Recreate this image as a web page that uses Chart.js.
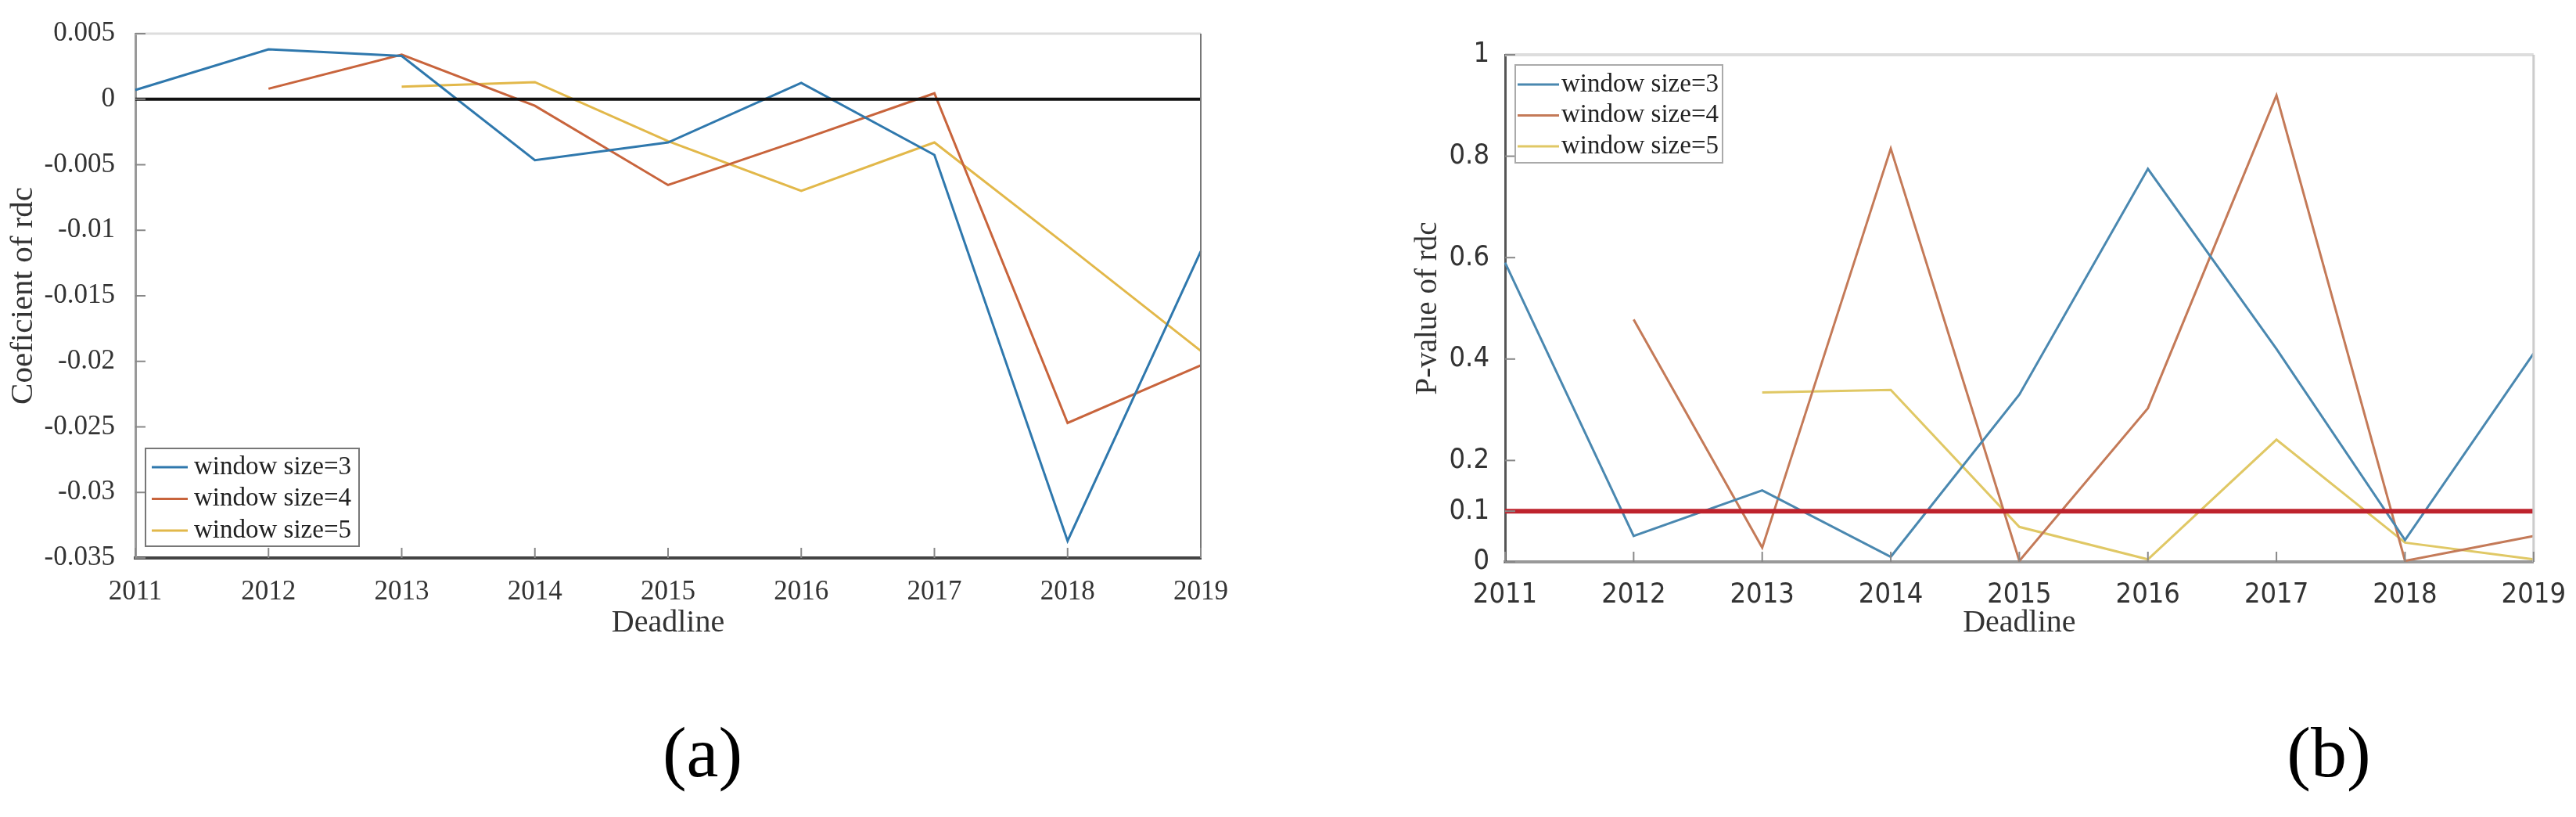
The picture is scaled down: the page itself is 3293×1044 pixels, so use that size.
<!DOCTYPE html>
<html>
<head>
<meta charset="utf-8">
<script src="https://cdn.jsdelivr.net/npm/chart.js@4"></script>
<style>
  body { margin: 0; background: #fff; width: 3293px; height: 1044px; position: relative; overflow: hidden; }
  canvas { position: absolute; top: 0; }
  #chartA { left: 0; }
  #chartB { left: 1700px; }
  .tag { position: absolute; top: 915px; font-family: 'Liberation Serif', 'Times New Roman', serif; font-size: 92px; line-height: 1; color: #000; transform: translateX(-50%); }
</style>
</head>
<body>
<canvas id="chartA" width="1600" height="850"></canvas>
<canvas id="chartB" width="1593" height="850"></canvas>
<div class="tag" style="left:898px">(a)</div>
<div class="tag" style="left:2977px">(b)</div>
<script>
// years on the x axis
const years = ['2011', '2012', '2013', '2014', '2015', '2016', '2017', '2018', '2019']
const seriesNames = ['window size=3', 'window size=4', 'window size=5']

// (a) coefficient of rdc
const coefW3 = [0.0007, 0.0038, 0.0033, -0.00465, -0.0033, 0.00125, -0.00425, -0.0337, -0.0116]
const coefW4 = [null, 0.0008, 0.0034, -0.0005, -0.00655, -0.0031, 0.00045, -0.0247, -0.0203]
const coefW5 = [null, null, 0.00095, 0.0013, -0.0032, -0.0070, -0.0033, -0.0112, -0.0192]
const zeroLine = [0, 0, 0, 0, 0, 0, 0, 0, 0]
const yTicksA = [-0.035, -0.03, -0.025, -0.02, -0.015, -0.01, -0.005, 0, 0.005]

// (b) p-value of rdc
const pW3 = [0.59, 0.051, 0.141, 0.01, 0.33, 0.775, 0.42, 0.043, 0.411]
const pW4 = [null, 0.478, 0.028, 0.815, 0.002, 0.303, 0.92, 0.002, 0.051]
const pW5 = [null, null, 0.334, 0.339, 0.069, 0.005, 0.241, 0.038, 0.005]
const threshold = [0.1, 0.1, 0.1, 0.1, 0.1, 0.1, 0.1, 0.1, 0.1]
const yTicksB = [0, 0.1, 0.2, 0.4, 0.6, 0.8, 1]

const serif = "'Liberation Serif', 'Times New Roman', serif"
const narrow = "'Liberation Sans Narrow', 'Arial Narrow', 'DejaVu Sans Condensed', sans-serif"

const colorsA = ['#2f78ad', '#c8643c', '#e2b84a']
const colorsB = ['#4a88b0', '#c47a58', '#e0c865']

// top/right box edges plus MATLAB style ticks that point inside the plot
function boxFrame(opts) {
  return {
    id: 'boxFrame',
    afterDatasetsDraw(chart) {
      const { ctx, chartArea: a, scales } = chart
      ctx.save()
      ctx.strokeStyle = opts.topColor
      ctx.lineWidth = opts.topWidth
      ctx.beginPath(); ctx.moveTo(a.left, a.top); ctx.lineTo(a.right, a.top); ctx.stroke()
      ctx.strokeStyle = opts.rightColor
      ctx.lineWidth = opts.rightWidth
      ctx.beginPath(); ctx.moveTo(a.right, a.top); ctx.lineTo(a.right, a.bottom); ctx.stroke()

      ctx.strokeStyle = opts.tickColor
      ctx.lineWidth = 2
      scales.x.ticks.forEach((t, i) => {
        const x = scales.x.getPixelForTick(i)
        ctx.beginPath(); ctx.moveTo(x, a.bottom); ctx.lineTo(x, a.bottom - opts.tickLen); ctx.stroke()
      })
      scales.y.ticks.forEach((t, i) => {
        const y = scales.y.getPixelForTick(i)
        ctx.beginPath(); ctx.moveTo(a.left, y); ctx.lineTo(a.left + opts.tickLen, y); ctx.stroke()
      })
      ctx.restore()
    }
  }
}

// boxed legend drawn inside the plot area
function boxLegend(opts) {
  return {
    id: 'boxLegend',
    afterDraw(chart) {
      const { ctx, chartArea: a } = chart
      const items = chart.data.datasets.filter(d => d.inLegend)
      const left = a.left + opts.dx
      const top = opts.anchor === 'bottom' ? a.bottom - opts.dy - opts.height : a.top + opts.dy
      ctx.save()
      ctx.fillStyle = '#fff'
      ctx.fillRect(left, top, opts.width, opts.height)
      ctx.strokeStyle = opts.borderColor
      ctx.lineWidth = 2
      ctx.strokeRect(left, top, opts.width, opts.height)
      ctx.font = opts.font
      ctx.textBaseline = 'middle'
      items.forEach((d, i) => {
        const y = top + opts.firstRow + i * opts.rowGap
        ctx.strokeStyle = d.borderColor
        ctx.lineWidth = 3
        ctx.beginPath(); ctx.moveTo(left + opts.lineStart, y); ctx.lineTo(left + opts.lineEnd, y); ctx.stroke()
        ctx.fillStyle = '#222'
        ctx.fillText(d.label, left + opts.textStart, y)
      })
      ctx.restore()
    }
  }
}

function seriesSet(values, colors, refData, refColor, refWidth) {
  const sets = [{
    label: 'ref', data: refData, borderColor: refColor, borderWidth: refWidth,
    pointRadius: 0, order: 0, inLegend: false
  }]
  values.forEach((v, i) => {
    sets.push({
      label: seriesNames[i], data: v, borderColor: colors[i], borderWidth: 3,
      pointRadius: 0, tension: 0, spanGaps: false, order: 1, inLegend: true
    })
  })
  return sets
}

// (a)
new Chart(document.getElementById('chartA'), {
  type: 'line',
  data: { labels: years, datasets: seriesSet([coefW3, coefW4, coefW5], colorsA, zeroLine, '#111', 4) },
  options: {
    responsive: false,
    animation: false,
    layout: { padding: { left: 0, top: 43, right: 65, bottom: 0 } },
    plugins: { legend: { display: false }, tooltip: { enabled: false } },
    scales: {
      x: {
        type: 'category',
        offset: false,
        grid: { display: false },
        border: { display: true, color: '#444', width: 4 },
        ticks: { color: '#333', padding: 15, maxRotation: 0, autoSkip: false, font: { family: serif, size: 35 } },
        title: { display: true, text: 'Deadline', color: '#333', font: { family: serif, size: 40 }, padding: { top: 0, bottom: 30 } },
        afterFit: s => { s.height = 137 }
      },
      y: {
        min: -0.035,
        max: 0.005,
        grid: { display: false },
        border: { display: true, color: '#999', width: 3 },
        afterBuildTicks: s => { s.ticks = yTicksA.map(v => ({ value: v })) },
        ticks: { color: '#333', padding: 18, font: { family: serif, size: 35 }, callback: v => String(v) },
        title: { display: true, text: 'Coeficient of rdc', color: '#333', font: { family: serif, size: 41 }, padding: { top: 6, bottom: 0 } },
        afterFit: s => { s.width = 173 }
      }
    }
  },
  plugins: [
    boxFrame({ topColor: '#ddd', topWidth: 3, rightColor: '#777', rightWidth: 2, tickColor: '#888', tickLen: 13 }),
    boxLegend({ anchor: 'bottom', dx: 13, dy: 15, width: 273, height: 125, firstRow: 24, rowGap: 40.5,
      lineStart: 8, lineEnd: 54, textStart: 62, borderColor: '#777', font: '33px ' + serif })
  ]
})

// (b)
new Chart(document.getElementById('chartB'), {
  type: 'line',
  data: { labels: years, datasets: seriesSet([pW3, pW4, pW5], colorsB, threshold, 'rgb(190,35,45)', 6) },
  options: {
    responsive: false,
    animation: false,
    layout: { padding: { left: 0, top: 70, right: 47, bottom: 0 } },
    plugins: { legend: { display: false }, tooltip: { enabled: false } },
    scales: {
      x: {
        type: 'category',
        offset: false,
        grid: { display: false },
        border: { display: true, color: '#999', width: 4 },
        ticks: { color: '#333', padding: 13, maxRotation: 0, autoSkip: false, font: { family: narrow, size: 36 } },
        title: { display: true, text: 'Deadline', color: '#333', font: { family: serif, size: 40 }, padding: { top: 0, bottom: 30 } },
        afterFit: s => { s.height = 132 }
      },
      y: {
        min: 0,
        max: 1,
        grid: { display: false },
        border: { display: true, color: '#555', width: 3 },
        afterBuildTicks: s => { s.ticks = yTicksB.map(v => ({ value: v })) },
        ticks: { color: '#333', padding: 12, font: { family: narrow, size: 36 }, callback: v => String(v) },
        title: { display: true, text: 'P-value of rdc', color: '#333', font: { family: serif, size: 39 }, padding: { top: 102, bottom: 0 } },
        afterFit: s => { s.width = 224 }
      }
    }
  },
  plugins: [
    boxFrame({ topColor: '#ddd', topWidth: 4, rightColor: '#ccc', rightWidth: 3, tickColor: '#888', tickLen: 13 }),
    boxLegend({ anchor: 'top', dx: 13, dy: 13, width: 265, height: 125, firstRow: 25, rowGap: 39.5,
      lineStart: 3, lineEnd: 56, textStart: 59, borderColor: '#aaa', font: '33px ' + serif })
  ]
})
</script>
</body>
</html>
